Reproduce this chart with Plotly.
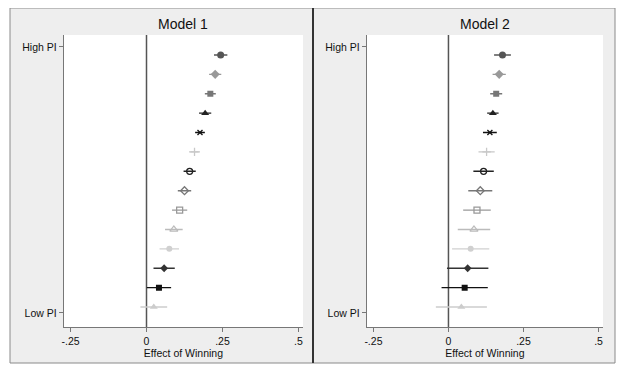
import plotly.graph_objects as go

# ---- data ----
rows = list(range(14))  # 0 = highest PI, 13 = lowest PI
m1_est = [0.244, 0.226, 0.210, 0.193, 0.176, 0.158, 0.142, 0.125, 0.109, 0.090, 0.075, 0.058, 0.041, 0.024]
m1_ci = [0.022, 0.020, 0.018, 0.020, 0.016, 0.018, 0.020, 0.022, 0.025, 0.029, 0.032, 0.035, 0.040, 0.044]
m2_est = [0.180, 0.169, 0.159, 0.148, 0.138, 0.127, 0.117, 0.106, 0.095, 0.085, 0.074, 0.064, 0.054, 0.043]
m2_ci = [0.028, 0.022, 0.020, 0.019, 0.023, 0.027, 0.034, 0.040, 0.046, 0.054, 0.062, 0.069, 0.077, 0.085]
titles = ["Model 1", "Model 2"]
x_ticks = [-0.25, 0, 0.25, 0.5]
x_tick_labels = ["-.25", "0", ".25", ".5"]
y_tick_pos = [-0.42, 13.3]
y_tick_labels = ["High PI", "Low PI"]

# ---- styles ----
symbols = ["circle", "diamond", "square", "triangle-up", "x-thin", "cross-thin",
           "circle-open", "diamond-open", "square-open", "triangle-up-open",
           "circle", "diamond", "square", "triangle-up"]
colors = ["#555555", "#999999", "#777777", "#222222", "#111111", "#c8c8c8",
          "#222222", "#777777", "#999999", "#bbbbbb",
          "#d0d0d0", "#333333", "#111111", "#cccccc"]
sizes = [7, 7, 6, 7, 5, 6, 6, 6, 6, 7, 6, 6, 6, 7]

# page body has an 8px margin; work in reference-pixel coordinates shifted by it
OX, OY = 8, 8
W, H = 608, 356


def px(x):
    return (x - OX) / W


def py(y):
    return 1 - (y - OY) / H


FONT = "Liberation Sans, Arial"
fig = go.Figure()

domains = [[px(62), px(302)], [px(366), px(603)]]
ydom = [py(327), py(35)]

for p, (est, ci) in enumerate([(m1_est, m1_ci), (m2_est, m2_ci)]):
    xa = "x" if p == 0 else "x2"
    ya = "y" if p == 0 else "y2"
    for i in rows:
        thin = symbols[i] in ("x-thin", "cross-thin")
        open_ = symbols[i].endswith("-open")
        fig.add_trace(go.Scatter(
            x=[est[i]], y=[i], xaxis=xa, yaxis=ya, mode="markers",
            marker=dict(symbol=symbols[i], size=sizes[i], color=colors[i],
                        line=dict(color=colors[i], width=1.3 if (thin or open_) else 0)),
            error_x=dict(type="data", array=[ci[i]], width=0, thickness=1.4, color=colors[i]),
            showlegend=False, hoverinfo="x"))

axis_common = dict(range=[-0.272, 0.515], tickvals=x_ticks, ticktext=x_tick_labels,
                   showgrid=False, zeroline=False, showline=True, linecolor="#777777",
                   linewidth=1, ticks="outside", ticklen=4, tickcolor="#777777",
                   tickfont=dict(family=FONT, size=10.5, color="#111111"),
                   title=dict(text="Effect of Winning", standoff=0,
                              font=dict(family=FONT, size=10.5, color="#111111")))
yaxis_common = dict(range=[14.03, -1.03], tickvals=y_tick_pos, ticktext=y_tick_labels,
                    showgrid=False, zeroline=False, showline=True, linecolor="#777777",
                    linewidth=1, ticks="outside", ticklen=4, tickcolor="#777777",
                    tickfont=dict(family=FONT, size=10.5, color="#111111"))

fig.update_layout(
    width=W, height=H, margin=dict(l=0, r=0, t=0, b=0),
    paper_bgcolor="white", plot_bgcolor="white",
    xaxis=dict(domain=domains[0], anchor="y", **axis_common),
    xaxis2=dict(domain=domains[1], anchor="y2", **axis_common),
    yaxis=dict(domain=ydom, anchor="x", **yaxis_common),
    yaxis2=dict(domain=ydom, anchor="x2", **yaxis_common),
)

shapes = [
    dict(type="rect", xref="paper", yref="paper", x0=px(8), x1=px(615), y0=py(363), y1=py(8),
         fillcolor="#eeeeee", line=dict(color="#8a8a8a", width=1), layer="below"),
    dict(type="line", xref="paper", yref="paper", x0=px(312), x1=px(312), y0=py(363), y1=py(8),
         line=dict(color="#333333", width=2)),
    dict(type="rect", xref="paper", yref="paper", x0=domains[0][0], x1=domains[0][1], y0=ydom[0], y1=ydom[1],
         fillcolor="white", line=dict(width=0), layer="below"),
    dict(type="rect", xref="paper", yref="paper", x0=domains[1][0], x1=domains[1][1], y0=ydom[0], y1=ydom[1],
         fillcolor="white", line=dict(width=0), layer="below"),
    dict(type="line", xref="x", yref="y domain", x0=0, x1=0, y0=0, y1=1,
         line=dict(color="#555555", width=1.5), layer="below"),
    dict(type="line", xref="x2", yref="y2 domain", x0=0, x1=0, y0=0, y1=1,
         line=dict(color="#555555", width=1.5), layer="below"),
]
fig.update_layout(shapes=shapes)

annotations = []
for p, t in enumerate(titles):
    annotations.append(dict(text=t, xref="paper", yref="paper",
                            x=(domains[p][0] + domains[p][1]) / 2, y=py(24),
                            xanchor="center", yanchor="middle", showarrow=False,
                            font=dict(family=FONT, size=14, color="#111111")))
fig.update_layout(annotations=annotations)

fig.write_html("out.html")
